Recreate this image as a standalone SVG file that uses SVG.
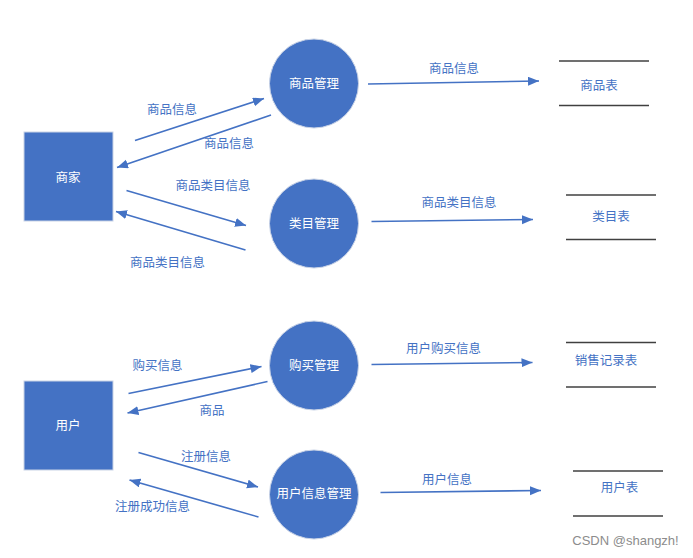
<svg xmlns="http://www.w3.org/2000/svg" width="693" height="558" viewBox="0 0 693 558">
<style>
.box{fill:#4472C4;stroke:#c9d3e6;stroke-width:1}
.proc{fill:#4472C4;stroke:#c9d3e6;stroke-width:1}
.nt{fill:#ffffff;font-family:"Noto Sans CJK SC","Noto Sans",sans-serif;font-size:12.5px;text-anchor:middle;dominant-baseline:central}
.lbl{fill:#4472C4;font-family:"Noto Sans CJK SC","Noto Sans",sans-serif;font-size:12.5px;text-anchor:middle;dominant-baseline:central}
.st{fill:#4472C4;font-family:"Noto Sans CJK SC","Noto Sans",sans-serif;font-size:12.5px;text-anchor:middle;dominant-baseline:central}
.tl{stroke:#404040;stroke-width:1.4}
.flow{stroke:#4472C4;stroke-width:1.6;fill:none;marker-end:url(#ah)}
.wm{fill:#8c8c8c;font-family:"Liberation Sans",Arial,sans-serif;font-size:13px;text-anchor:middle;dominant-baseline:central}
</style>
<defs>
<marker id="ah" markerUnits="userSpaceOnUse" markerWidth="12" markerHeight="10" refX="11" refY="4.5" orient="auto">
<path d="M0,0 L11,4.5 L0,9 z" fill="#4472C4"/>
</marker>
</defs>
<rect width="693" height="558" fill="#ffffff"/>

<g id="merchant"><rect class="box" x="24" y="132" width="89" height="89"/><text class="nt" x="68" y="176">商家</text></g>
<g id="user"><rect class="box" x="24" y="381" width="89" height="89"/><text class="nt" x="68" y="424">用户</text></g>

<g id="goods-mgmt"><circle class="proc" cx="314" cy="83.5" r="44.5"/><text class="nt" x="314" y="82.5">商品管理</text></g>
<g id="cat-mgmt"><circle class="proc" cx="314" cy="223.5" r="44.5"/><text class="nt" x="314" y="222.5">类目管理</text></g>
<g id="buy-mgmt"><circle class="proc" cx="314" cy="365.5" r="44.5"/><text class="nt" x="314" y="364">购买管理</text></g>
<g id="userinfo-mgmt"><circle class="proc" cx="314" cy="494.5" r="44.5"/><text class="nt" x="314" y="492">用户信息管理</text></g>

<g id="goods-table"><line class="tl" x1="559" y1="61" x2="649" y2="61"/><line class="tl" x1="559" y1="105.5" x2="649" y2="105.5"/><text class="st" x="599" y="84">商品表</text></g>
<g id="cat-table"><line class="tl" x1="566" y1="195" x2="656" y2="195"/><line class="tl" x1="566" y1="239.5" x2="656" y2="239.5"/><text class="st" x="611" y="215.5">类目表</text></g>
<g id="sales-table"><line class="tl" x1="566" y1="342.5" x2="656" y2="342.5"/><line class="tl" x1="566" y1="387" x2="656" y2="387"/><text class="st" x="606" y="359.5">销售记录表</text></g>
<g id="user-table"><line class="tl" x1="573" y1="471" x2="663" y2="471"/><line class="tl" x1="573" y1="516" x2="663" y2="516"/><text class="st" x="619.5" y="486.5">用户表</text></g>

<g id="connectors">
<line class="flow" x1="135" y1="140.5" x2="264" y2="98.5"/>
<line class="flow" x1="271" y1="115" x2="117" y2="167.5"/>
<line class="flow" x1="126.5" y1="190.5" x2="246" y2="225.5"/>
<line class="flow" x1="245.5" y1="250" x2="116" y2="211.5"/>
<line class="flow" x1="368" y1="84" x2="539" y2="81"/>
<line class="flow" x1="371.5" y1="221.5" x2="533" y2="219.5"/>
<line class="flow" x1="128.5" y1="393.5" x2="261.5" y2="366.5"/>
<line class="flow" x1="267.5" y1="381.5" x2="127.5" y2="413"/>
<line class="flow" x1="138.5" y1="452.5" x2="258" y2="487"/>
<line class="flow" x1="258.5" y1="517" x2="129.5" y2="480"/>
<line class="flow" x1="371.5" y1="364.5" x2="532.5" y2="362.5"/>
<line class="flow" x1="380.5" y1="492.5" x2="541" y2="490.5"/>
</g>

<g id="labels">
<text class="lbl" x="172" y="108.5">商品信息</text>
<text class="lbl" x="229" y="142.5">商品信息</text>
<text class="lbl" x="213" y="184.5">商品类目信息</text>
<text class="lbl" x="167.5" y="261.5">商品类目信息</text>
<text class="lbl" x="454" y="67">商品信息</text>
<text class="lbl" x="459" y="201">商品类目信息</text>
<text class="lbl" x="157.5" y="364">购买信息</text>
<text class="lbl" x="212" y="409">商品</text>
<text class="lbl" x="206" y="455.5">注册信息</text>
<text class="lbl" x="152.5" y="505">注册成功信息</text>
<text class="lbl" x="443.5" y="347.5">用户购买信息</text>
<text class="lbl" x="447" y="478.5">用户信息</text>
</g>
<text class="wm" x="625.5" y="540.5">CSDN @shangzh!</text>
</svg>
